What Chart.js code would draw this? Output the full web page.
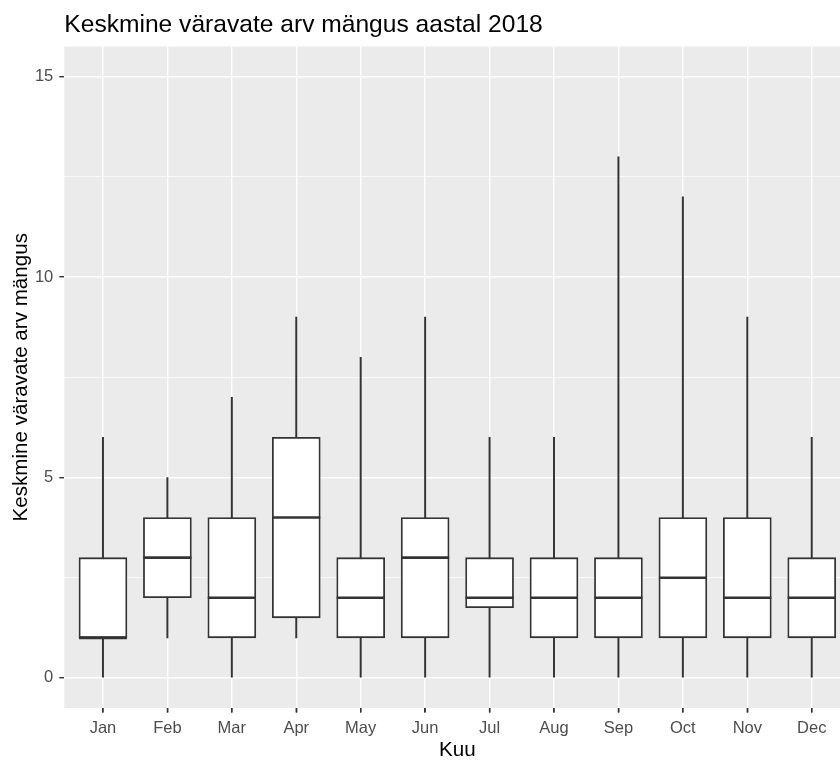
<!DOCTYPE html>
<html>
<head>
<meta charset="utf-8">
<script src="https://cdn.jsdelivr.net/npm/chart.js@4"></script>
<style>
    html, body { margin: 0; padding: 0; overflow: hidden; background: #ffffff; }
    #wrap { width: 860px; height: 763px; }
</style>
</head>
<body>
<div id="wrap"><canvas id="goalsChart"></canvas></div>
<script>
// data
var months = ['Jan', 'Feb', 'Mar', 'Apr', 'May', 'Jun', 'Jul', 'Aug', 'Sep', 'Oct', 'Nov', 'Dec'];
var whiskerLow = [0, 1, 0, 1, 0, 0, 0, 0, 0, 0, 0, 0];
var whiskerHigh = [6, 5, 7, 9, 8, 9, 6, 6, 13, 12, 9, 6];
var boxLow = [1, 2, 1, 1.5, 1, 1, 1.75, 1, 1, 1, 1, 1];
var boxHigh = [3, 4, 4, 6, 3, 4, 3, 3, 3, 4, 4, 3];
var medians = [1, 3, 2, 4, 2, 3, 2, 2, 2, 2.5, 2, 2];
var yMajorTicks = [0, 5, 10, 15];
var yMinorTicks = [2.5, 7.5, 12.5];

var LINE = '#333333';

var panelBackground = {
    id: 'panelBackground',
    beforeDraw: function(chart) {
        var a = chart.chartArea;
        var ctx = chart.ctx;
        ctx.save();
        ctx.fillStyle = '#EBEBEB';
        ctx.fillRect(a.left, a.top, a.right - a.left, a.bottom - a.top);
        ctx.restore();
    }
};

// small dark tick marks under the panel, one per month
var xTickMarks = {
    id: 'xTickMarks',
    afterDraw: function(chart) {
        var ctx = chart.ctx;
        var x = chart.scales.x;
        var bottom = chart.chartArea.bottom;
        ctx.save();
        ctx.strokeStyle = LINE;
        ctx.lineWidth = 1.4;
        months.forEach(function(m, i) {
            var px = x.getPixelForValue(i);
            ctx.beginPath();
            ctx.moveTo(px, bottom);
            ctx.lineTo(px, bottom + 4.5);
            ctx.stroke();
        });
        ctx.restore();
    }
};

var medianLines = {
    id: 'medianLines',
    afterDatasetsDraw: function(chart) {
        var ctx = chart.ctx;
        var x = chart.scales.x;
        var y = chart.scales.y;
        var boxes = chart.getDatasetMeta(0).data;
        ctx.save();
        ctx.strokeStyle = LINE;
        ctx.lineWidth = 2.6;
        medians.forEach(function(m, i) {
            var cx = x.getPixelForValue(i);
            var half = boxes[i].width / 2;
            var py = y.getPixelForValue(m);
            ctx.beginPath();
            ctx.moveTo(cx - half, py);
            ctx.lineTo(cx + half, py);
            ctx.stroke();
        });
        ctx.restore();
    }
};

var boxData = months.map(function(m, i) { return { x: i, y: [boxLow[i], boxHigh[i]] }; });
var whiskerData = months.map(function(m, i) { return { x: i, y: [whiskerLow[i], whiskerHigh[i]] }; });

new Chart(document.getElementById('goalsChart'), {
    type: 'bar',
    data: {
        datasets: [{
            label: 'box',
            data: boxData,
            backgroundColor: '#ffffff',
            borderColor: LINE,
            borderWidth: 1.8,
            borderSkipped: false,
            barThickness: 48,
            grouped: false
        }, {
            label: 'whisker',
            data: whiskerData,
            backgroundColor: LINE,
            borderWidth: 0,
            barThickness: 1.3,
            grouped: false
        }]
    },
    plugins: [panelBackground, medianLines, xTickMarks],
    options: {
        responsive: true,
        maintainAspectRatio: false,
        animation: false,
        layout: {
            padding: { left: 0, right: 9.6, top: 0, bottom: 0 }
        },
        plugins: {
            legend: { display: false },
            tooltip: { enabled: false },
            title: {
                display: true,
                text: 'Keskmine väravate arv mängus aastal 2018',
                align: 'start',
                fullSize: false,
                color: '#000000',
                font: { family: 'Liberation Sans', size: 24.6, weight: 'normal' },
                padding: { top: 10.5, bottom: 6.5 }
            }
        },
        scales: {
            x: {
                type: 'linear',
                min: -0.6,
                max: 11.6,
                offset: false,
                afterBuildTicks: function(scale) {
                    scale.ticks = months.map(function(m, i) { return { value: i }; });
                },
                afterFit: function(scale) { scale.height = 55; },
                grid: {
                    offset: false,
                    color: '#ffffff',
                    lineWidth: 1.4,
                    tickColor: LINE,
                    tickLength: 4.5,
                    drawTicks: true
                },
                border: { display: false },
                ticks: {
                    color: '#4D4D4D',
                    font: { family: 'Liberation Sans', size: 16.5 },
                    padding: 6,
                    maxRotation: 0,
                    autoSkip: false,
                    callback: function(v) { return months[v]; }
                },
                title: {
                    display: true,
                    text: 'Kuu',
                    color: '#000000',
                    font: { family: 'Liberation Sans', size: 20.6 },
                    padding: { top: 0, bottom: 0.5 }
                }
            },
            y: {
                type: 'linear',
                min: -0.75,
                max: 15.75,
                afterBuildTicks: function(scale) {
                    scale.ticks = yMajorTicks.concat(yMinorTicks)
                        .sort(function(a, b) { return a - b; })
                        .map(function(v) { return { value: v }; });
                },
                afterFit: function(scale) { scale.width = 64.3; },
                grid: {
                    color: '#ffffff',
                    lineWidth: function(c) {
                        return yMinorTicks.indexOf(c.tick.value) >= 0 ? 0.7 : 1.4;
                    },
                    tickColor: function(c) {
                        return yMinorTicks.indexOf(c.tick.value) >= 0 ? 'rgba(0,0,0,0)' : LINE;
                    },
                    tickLength: 5
                },
                border: { display: false },
                ticks: {
                    color: '#4D4D4D',
                    font: { family: 'Liberation Sans', size: 16.5 },
                    padding: 6,
                    autoSkip: false,
                    callback: function(v) {
                        return yMajorTicks.indexOf(v) >= 0 ? String(v) : '';
                    }
                },
                title: {
                    display: true,
                    text: 'Keskmine väravate arv mängus',
                    color: '#000000',
                    font: { family: 'Liberation Sans', size: 20.6 },
                    padding: { top: 9, bottom: 0 }
                }
            }
        }
    }
});
</script>
</body>
</html>
